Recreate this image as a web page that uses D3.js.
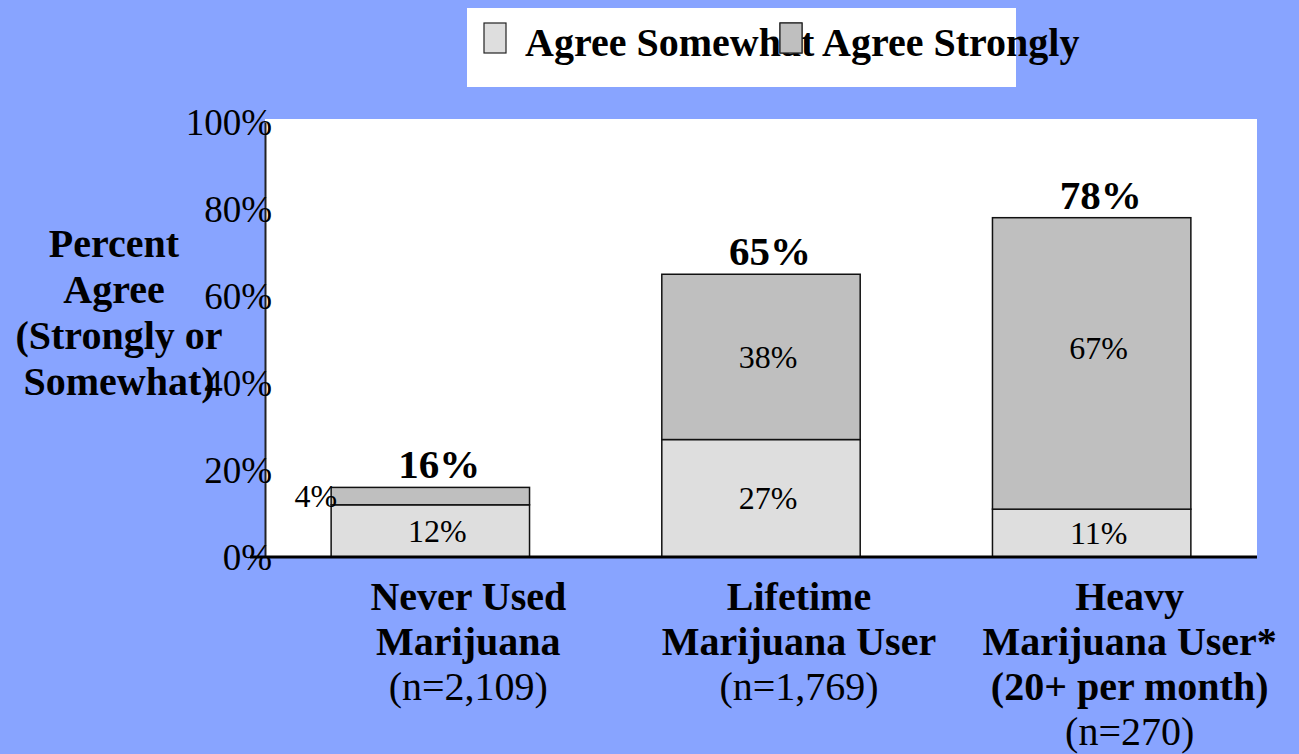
<!DOCTYPE html>
<html>
<head>
<meta charset="utf-8">
<script src="https://cdn.jsdelivr.net/npm/d3@7"></script>
<style>
  html, body { margin: 0; padding: 0; background: #88A4FF; }
  svg { display: block; }
  text { font-family: "Liberation Serif", "Times New Roman", serif; fill: #000; white-space: pre; }
</style>
</head>
<body>
<svg id="chart" width="1299" height="754"></svg>
<script>
// ---- data ----
const categories = ["Never Used", "Lifetime", "Heavy"];
const categoryLines = [
  [["Never Used", true], ["Marijuana", true], ["(n=2,109)", false]],
  [["Lifetime", true], ["Marijuana User", true], ["(n=1,769)", false]],
  [["Heavy", true], ["Marijuana User*", true], ["(20+ per month)", true], ["(n=270)", false]]
];
const agreeSomewhat = [12, 27, 11];
const agreeStrongly = [4, 38, 67];
const totals = [16, 65, 78];
const seriesNames = ["Agree Somewhat", "Agree Strongly"];
const yTicks = [0, 20, 40, 60, 80, 100];
const yTitle = ["Percent ", "Agree ", "(Strongly or", "Somewhat)"];

// ---- layout ----
const svg = d3.select("#chart");
const plot = { left: 265, right: 1257, top: 119, bottom: 557 };
const colors = ["#DEDEDE", "#BFBFBF"];

const x = d3.scaleBand().domain(categories).range([plot.left, plot.right]).paddingInner(0.4).paddingOuter(0.2);
const y = d3.scaleLinear().domain([0, 100]).range([plot.bottom, plot.top + 3]);

// plot background
svg.append("rect").attr("x", plot.left).attr("y", plot.top)
  .attr("width", plot.right - plot.left).attr("height", plot.bottom - plot.top)
  .attr("fill", "#fff");

// stacked bars
const stackData = categories.map((c, i) => ({ cat: c, s: agreeSomewhat[i], t: agreeStrongly[i] }));
const stack = d3.stack().keys(["s", "t"])(stackData);
stack.forEach((layer, li) => {
  svg.append("g").selectAll("rect").data(layer).join("rect")
    .attr("x", d => x(d.data.cat))
    .attr("y", d => y(d[1]))
    .attr("width", x.bandwidth())
    .attr("height", d => y(d[0]) - y(d[1]))
    .attr("fill", colors[li])
    .attr("stroke", "#111")
    .attr("stroke-width", 1.5);
});

// segment labels
stack.forEach((layer, li) => {
  svg.append("g").selectAll("text").data(layer).join("text")
    .attr("x", d => {
      const v = d[1] - d[0];
      return v < 6 ? x(d.data.cat) + 6 : x(d.data.cat) + x.bandwidth() / 2 + 7;
    })
    .attr("y", d => {
      const mid = (y(d[0]) + y(d[1])) / 2;
      return (d[1] - d[0]) > 50 ? mid - 4 : mid + 11;
    })
    .attr("text-anchor", d => (d[1] - d[0]) < 6 ? "end" : "middle")
    .attr("font-size", 32)
    .text(d => (d[1] - d[0]) + "%");
});

// totals
svg.append("g").selectAll("text").data(categories).join("text")
  .attr("x", (c) => x(c) + x.bandwidth() / 2 + 9)
  .attr("y", (c, i) => y(totals[i]) - 9)
  .attr("text-anchor", "middle")
  .attr("font-size", 41)
  .attr("font-weight", "bold")
  .text((c, i) => totals[i] + "%");

// y axis
const yAxis = d3.axisLeft(y).tickValues(yTicks).tickFormat(d => d + "%").tickSize(0);
const gy = svg.append("g").attr("transform", `translate(${plot.left},0)`).call(yAxis);
gy.select(".domain").attr("stroke", "#222").attr("stroke-width", 2);
gy.selectAll("text").attr("font-size", 37).attr("x", 7).attr("dy", "0.35em")
  .style("font-family", "Liberation Serif, serif").attr("fill", "#000");

// x axis baseline
svg.append("line").attr("x1", plot.left - 15).attr("x2", plot.right)
  .attr("y1", y(0)).attr("y2", y(0)).attr("stroke", "#000").attr("stroke-width", 3);

// category labels
categoryLines.forEach((lines, i) => {
  const cx = x(categories[i]) + x.bandwidth() / 2 + 38;
  const t = svg.append("text").attr("text-anchor", "middle").attr("font-size", 40);
  lines.forEach((ln, j) => {
    t.append("tspan").attr("x", cx).attr("y", 610 + j * 45)
      .attr("font-weight", ln[1] ? "bold" : "normal").text(ln[0]);
  });
});

// y title
const tt = svg.append("text").attr("text-anchor", "middle").attr("font-size", 40).attr("font-weight", "bold");
yTitle.forEach((l, j) => tt.append("tspan").attr("x", 119).attr("y", 257 + j * 46).text(l));

// legend
svg.append("rect").attr("x", 467).attr("y", 8).attr("width", 549).attr("height", 79).attr("fill", "#fff");
const legendX = [484, 780];
const legendTextX = [525, 822];
seriesNames.forEach((n, i) => {
  svg.append("rect").attr("x", legendX[i]).attr("y", 23).attr("width", 22).attr("height", 30)
    .attr("fill", colors[i]).attr("stroke", "#222").attr("stroke-width", 1.2);
  svg.append("text").attr("x", legendTextX[i]).attr("y", 56).attr("font-size", 40)
    .attr("font-weight", "bold").text(n);
});
// second swatch drawn over the first label, as in the reference
svg.append("rect").attr("x", legendX[1]).attr("y", 23).attr("width", 22).attr("height", 30)
  .attr("fill", colors[1]).attr("stroke", "#222").attr("stroke-width", 1.2);
</script>
</body>
</html>
